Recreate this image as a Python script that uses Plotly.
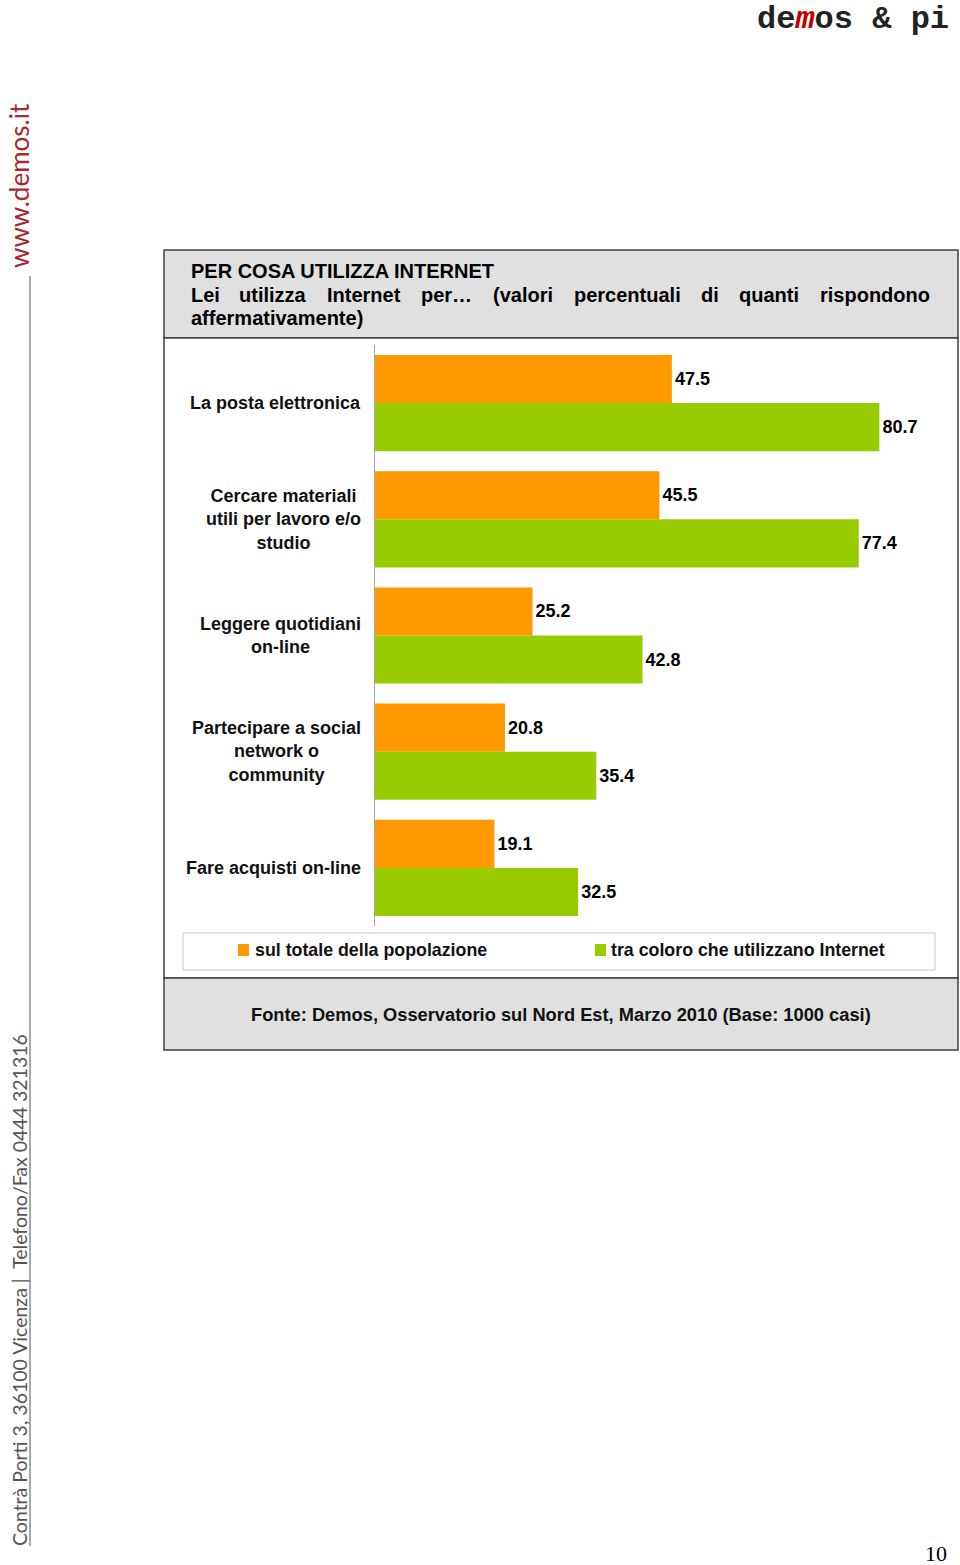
import plotly.graph_objects as go

# ---- data ----
categories = [
    "La posta elettronica",
    "Cercare materiali<br>utili per lavoro e/o<br>studio",
    "Leggere quotidiani<br>on-line",
    "Partecipare a social<br>network o<br>community",
    "Fare acquisti on-line",
]
series_names = ["sul totale della popolazione", "tra coloro che utilizzano Internet"]
totale_popolazione = [47.5, 45.5, 25.2, 20.8, 19.1]
utenti_internet = [80.7, 77.4, 42.8, 35.4, 32.5]
series_colors = ["#FF9900", "#99CC00"]

title_line1 = "PER COSA UTILIZZA INTERNET"
title_line2_words = ["Lei", "utilizza", "Internet", "per…", "(valori", "percentuali", "di", "quanti", "rispondono"]
title_line3 = "affermativamente)"
source_text = "Fonte: Demos, Osservatorio sul Nord Est, Marzo 2010 (Base: 1000 casi)"

W, H = 960, 1565


def px(x):
    return x / W


def py(y):
    return 1 - y / H


FONT = "Liberation Sans, Arial, Helvetica, sans-serif"
bold = lambda s, c="#000000": dict(family=FONT, size=s, color=c, weight="bold")

fig = go.Figure()
for name, vals, col in zip(series_names, [totale_popolazione, utenti_internet], series_colors):
    fig.add_trace(go.Bar(
        y=categories, x=vals, name=name, orientation="h",
        marker=dict(color=col, line=dict(width=0)),
        text=[f"{v:.1f}" for v in vals], textposition="outside",
        textfont=bold(18), cliponaxis=False, showlegend=False,
    ))

shapes = []
# outer frame boxes
shapes.append(dict(type="rect", xref="paper", yref="paper", x0=px(164), x1=px(958), y0=py(250), y1=py(338),
                   fillcolor="#E0E0E0", line=dict(color="#404040", width=1.5), layer="below"))
shapes.append(dict(type="rect", xref="paper", yref="paper", x0=px(164), x1=px(958), y0=py(338), y1=py(978),
                   fillcolor="#FFFFFF", line=dict(color="#404040", width=1.5), layer="below"))
shapes.append(dict(type="rect", xref="paper", yref="paper", x0=px(164), x1=px(958), y0=py(978), y1=py(1050),
                   fillcolor="#E0E0E0", line=dict(color="#404040", width=1.5), layer="below"))
# legend box
shapes.append(dict(type="rect", xref="paper", yref="paper", x0=px(183), x1=px(935), y0=py(933), y1=py(970),
                   fillcolor="#FFFFFF", line=dict(color="#C8C8C8", width=1), layer="below"))
# legend swatches
for x0, col in zip([238, 595], series_colors):
    shapes.append(dict(type="rect", xref="paper", yref="paper", x0=px(x0), x1=px(x0 + 11), y0=py(944), y1=py(956),
                       fillcolor=col, line=dict(width=0)))
# left vertical rule
shapes.append(dict(type="line", xref="paper", yref="paper", x0=px(30), x1=px(30), y0=py(276), y1=py(1546),
                   line=dict(color="#8C8C8C", width=1.5)))

ann = []
# category labels
for c in categories:
    ann.append(dict(xref="paper", yref="y", x=px(363), y=c, text=c, showarrow=False,
                    xanchor="right", yanchor="middle", align="center", font=bold(18, "#111111")))
# title
ann.append(dict(xref="paper", yref="paper", x=px(189), y=py(271), text=title_line1, showarrow=False,
                xanchor="left", yanchor="middle", font=bold(20)))
word_x = [189, 237, 325, 419, 491, 572, 699, 737, 818]
for wx, wtxt in zip(word_x, title_line2_words):
    ann.append(dict(xref="paper", yref="paper", x=px(wx), y=py(295), text=wtxt, showarrow=False,
                    xanchor="left", yanchor="middle", font=bold(20)))
ann.append(dict(xref="paper", yref="paper", x=px(189), y=py(318), text=title_line3, showarrow=False,
                xanchor="left", yanchor="middle", font=bold(20)))
# legend text
for tx, name in zip([253, 609], series_names):
    ann.append(dict(xref="paper", yref="paper", x=px(tx), y=py(950), text=name, showarrow=False,
                    xanchor="left", yanchor="middle", font=bold(17.8, "#111111")))
# source
ann.append(dict(xref="paper", yref="paper", x=px(561), y=py(1014), text=source_text, showarrow=False,
                xanchor="center", yanchor="middle", font=bold(18.3, "#111111")))
# logo
ann.append(dict(xref="paper", yref="paper", x=px(853), y=py(19),
                text="de<span style='color:#C00000'><i>m</i></span>os &amp; pi", showarrow=False,
                xanchor="center", yanchor="middle",
                font=dict(family="Liberation Mono, DejaVu Sans Mono, monospace", size=32, color="#222222",
                          weight="bold")))
# side texts
ann.append(dict(xref="paper", yref="paper", x=px(19), y=py(186), text="www.demos.it", textangle=-90,
                showarrow=False, xanchor="center", yanchor="middle",
                font=dict(family="Lato, Open Sans, sans-serif", size=26, color="#A8282C")))
ann.append(dict(xref="paper", yref="paper", x=px(19), y=py(1290),
                text="Contrà Porti 3, 36100 Vicenza |  Telefono/Fax 0444 321316", textangle=-90,
                showarrow=False, xanchor="center", yanchor="middle",
                font=dict(family="Lato, Open Sans, sans-serif", size=19.5, color="#555555")))
# page number
ann.append(dict(xref="paper", yref="paper", x=px(936), y=py(1553), text="10", showarrow=False,
                xanchor="center", yanchor="middle",
                font=dict(family="Liberation Serif, DejaVu Serif, serif", size=22, color="#000000")))

fig.update_layout(
    width=W, height=H,
    margin=dict(l=0, r=0, t=0, b=0),
    paper_bgcolor="#FFFFFF", plot_bgcolor="rgba(0,0,0,0)",
    barmode="group", bargap=0.172, bargroupgap=0,
    xaxis=dict(domain=[px(375), px(958)], range=[0, 93.28], visible=False, fixedrange=True),
    yaxis=dict(domain=[py(926), py(345)], autorange="reversed", showticklabels=False,
               showgrid=False, zeroline=False, showline=True, linecolor="#A6A6A6", linewidth=1,
               ticks=""),
    shapes=shapes, annotations=ann, showlegend=False,
)

fig.write_html("out.html", config={"displayModeBar": False},
               post_script="document.body.style.margin='0';document.body.style.overflow='hidden';")
